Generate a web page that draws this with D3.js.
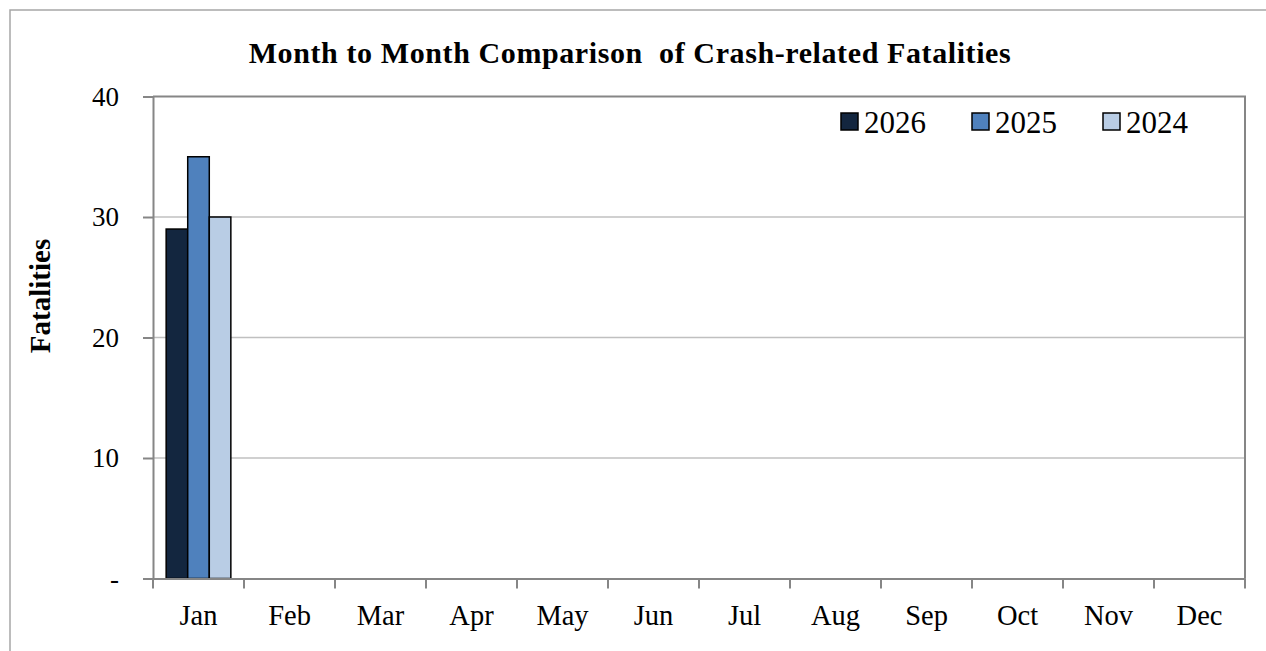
<!DOCTYPE html>
<html lang="en">
  <head>
    <meta charset="utf-8" />
    <title>Crash-related Fatalities</title>
    <style>
      body { margin: 0; background: #fff; }
      svg text { font-family: "Liberation Serif", "Times New Roman", serif; fill: #000; }
    </style>
  </head>
  <body>
    <div id="vis"></div>
    <script src="https://cdn.jsdelivr.net/npm/d3@7"></script>
    <script>
      const months = ["Jan", "Feb", "Mar", "Apr", "May", "Jun", "Jul", "Aug", "Sep", "Oct", "Nov", "Dec"];
      const years = ["2026", "2025", "2024"];
      const fatal2026 = [29];
      const fatal2025 = [35];
      const fatal2024 = [30];
      const yTicks = [0, 10, 20, 30, 40];
      const colors = ["#13263f", "#4f81bd", "#b9cde5"];

      const seriesValues = [fatal2026, fatal2025, fatal2024];
      const rows = [];
      years.forEach((yr, i) => {
        seriesValues[i].forEach((v, m) => rows.push({ year: yr, month: months[m], value: v }));
      });

      const width = 1266, height = 651;
      const m = { left: 153, right: 1245, top: 96.5, bottom: 578.5 };

      const svg = d3.select("#vis").append("svg").attr("width", width).attr("height", height);

      // outer chart border
      svg.append("rect").attr("x", 10).attr("y", 10).attr("width", 1270).attr("height", 700)
        .attr("fill", "none").attr("stroke", "#a6a6a6").attr("stroke-width", 1.5);

      const x = d3.scaleBand().domain(months).range([m.left, m.right]);
      const xs = d3.scaleBand().domain(years).range([0, x.bandwidth()]).paddingInner(0).paddingOuter(0.61);
      const y = d3.scaleLinear().domain([0, 40]).range([m.bottom, m.top]);

      // gridlines
      svg.append("g").selectAll("line").data(yTicks.filter(d => d > 0 && d < 40)).join("line")
        .attr("x1", m.left).attr("x2", m.right)
        .attr("y1", d => y(d)).attr("y2", d => y(d))
        .attr("stroke", "#c0c0c0").attr("stroke-width", 1.5);

      // plot frame top + right
      svg.append("path")
        .attr("d", `M${m.left},${y(40)}H${m.right}V${m.bottom}`)
        .attr("fill", "none").attr("stroke", "#868686").attr("stroke-width", 2);

      // bars
      svg.append("g").selectAll("rect").data(rows).join("rect")
        .attr("x", d => x(d.month) + xs(d.year))
        .attr("y", d => y(d.value))
        .attr("width", xs.bandwidth())
        .attr("height", d => y(0) - y(d.value))
        .attr("fill", d => colors[years.indexOf(d.year)])
        .attr("stroke", "#000").attr("stroke-width", 1.5);

      // y axis
      const yAxis = svg.append("g").attr("transform", `translate(${m.left},0)`)
        .call(d3.axisLeft(y).tickValues(yTicks).tickSize(10).tickPadding(24)
          .tickFormat(d => d === 0 ? "-" : d));
      yAxis.select(".domain").attr("stroke", "#868686").attr("stroke-width", 2);
      yAxis.selectAll(".tick line").attr("stroke", "#868686").attr("stroke-width", 2);
      yAxis.selectAll(".tick text").attr("font-size", 27).attr("dy", "0.33em");

      // x axis
      const xAxis = svg.append("g").attr("transform", `translate(0,${m.bottom})`)
        .call(d3.axisBottom(x).tickSize(0).tickPadding(26));
      xAxis.select(".domain").attr("stroke", "#868686").attr("stroke-width", 2);
      xAxis.selectAll(".tick text").attr("font-size", 28.5);
      xAxis.append("g").selectAll("line").data(months.concat(["end"])).join("line")
        .attr("x1", (d, i) => m.left + i * x.step()).attr("x2", (d, i) => m.left + i * x.step())
        .attr("y1", 0).attr("y2", 10)
        .attr("stroke", "#868686").attr("stroke-width", 2);

      // title
      svg.append("text")
        .attr("x", 630).attr("y", 63)
        .attr("text-anchor", "middle")
        .attr("font-size", 30).attr("font-weight", "bold")
        .attr("letter-spacing", 0.6)
        .style("white-space", "pre")
        .text("Month to Month Comparison  of Crash-related Fatalities");

      // y title
      svg.append("text")
        .attr("transform", "translate(50,296) rotate(-90)")
        .attr("text-anchor", "middle")
        .attr("font-size", 29).attr("font-weight", "bold")
        .text("Fatalities");

      // legend
      const legendX = [841, 972, 1103];
      const legend = svg.append("g").selectAll("g").data(years).join("g")
        .attr("transform", (d, i) => `translate(${legendX[i]},113)`);
      legend.append("rect").attr("width", 17).attr("height", 17)
        .attr("fill", (d, i) => colors[i]).attr("stroke", "#000").attr("stroke-width", 1.5);
      legend.append("text").attr("x", 23).attr("y", 19.5)
        .attr("font-size", 31).text(d => d);
    </script>
  </body>
</html>
